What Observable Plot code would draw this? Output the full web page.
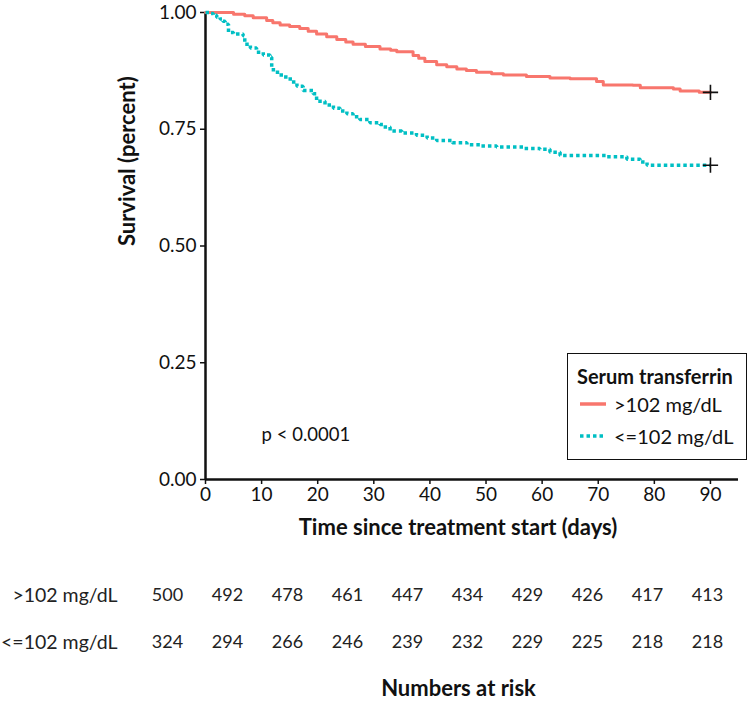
<!DOCTYPE html>
<html>
<head>
<meta charset="utf-8">
<script src="https://cdn.jsdelivr.net/npm/d3@7"></script>
<script src="https://cdn.jsdelivr.net/npm/@observablehq/plot@0.6"></script>
<style>
  body { margin: 0; background: white; font-family: Lato, "Open Sans", sans-serif; }
  #wrap { position: relative; width: 750px; }
  #legend { position: absolute; left: 567px; top: 353px; width: 178px; height: 105px;
    border: 1.6px solid #111; background: white; color: #111; font-family: Lato, sans-serif; }
  #legend .title { position: absolute; left: 9px; top: 10px; font-weight: bold; font-size: 20px; }
  #legend .row { position: absolute; left: 12px; font-size: 20px; display: flex; align-items: center; }
  #legend .row svg { margin-right: 8px; }
</style>
</head>
<body>
<div id="wrap"></div>
<script>
// ---- data ----
const groups = [">102 mg/dL", "<=102 mg/dL"];
const colors = ["#F8766D", "#00BFC4"];

const hiTime = [0, 5, 7, 8.5, 10.9, 12, 13.3, 15, 16.8, 18.3,
  19.8, 21.6, 23.4, 25, 26.3, 28.5, 31.1, 33, 34.1, 37,
  38, 39.1, 41.2, 43, 44.8, 46.5, 48.3, 51, 53.1, 57.2,
  61.4, 65, 69.7, 70.9, 76.2, 77.5, 83.4, 84.6, 88, 90];
const hiSurv = [1.0, 0.996, 0.993, 0.989, 0.983, 0.978, 0.973, 0.970, 0.966, 0.960,
  0.954, 0.948, 0.942, 0.937, 0.932, 0.927, 0.922, 0.919, 0.916, 0.908,
  0.902, 0.895, 0.888, 0.884, 0.879, 0.876, 0.872, 0.869, 0.866, 0.863,
  0.860, 0.858, 0.852, 0.845, 0.844, 0.839, 0.836, 0.832, 0.829, 0.829];

const loTime = [0, 0.7, 1.4, 2, 2.6, 3.1, 3.5, 4.1, 5, 6.7,
  7, 8, 9.1, 10.3, 11.5, 11.8, 12.1, 13.5, 15.1, 16.3,
  17.4, 19.2, 19.8, 21.3, 22.8, 24, 25.2, 26.3, 27.5, 29.3,
  31.1, 31.7, 32.9, 35, 37.6, 39.5, 41.2, 44, 46.6, 49,
  51.9, 56.6, 59.6, 61.4, 63.2, 71.5, 75.1, 77.5, 78.7, 90];
const loSurv = [1.0, 0.998, 0.994, 0.990, 0.986, 0.981, 0.975, 0.957, 0.954, 0.950,
  0.932, 0.924, 0.915, 0.909, 0.904, 0.883, 0.872, 0.862, 0.851, 0.842,
  0.833, 0.826, 0.810, 0.802, 0.795, 0.789, 0.783, 0.777, 0.771, 0.764,
  0.760, 0.755, 0.746, 0.742, 0.737, 0.731, 0.726, 0.721, 0.717, 0.714,
  0.712, 0.709, 0.707, 0.701, 0.694, 0.691, 0.686, 0.680, 0.673, 0.673];

const censorTime = [90, 90];
const censorSurv = [0.829, 0.673];

const xTicks = [0, 10, 20, 30, 40, 50, 60, 70, 80, 90];
const yTicks = [0, 0.25, 0.5, 0.75, 1.0];

const riskTimes = [0, 10, 20, 30, 40, 50, 60, 70, 80, 90];
const riskHi = [500, 492, 478, 461, 447, 434, 429, 426, 417, 413];
const riskLo = [324, 294, 266, 246, 239, 232, 229, 225, 218, 218];

const pText = "p < 0.0001";
const pTime = 10, pSurv = 0.095;
const xTitle = "Time since treatment start (days)";
const yTitle = "Survival (percent)";
const legendTitle = "Serum transferrin";
const riskTitle = "Numbers at risk";

// ---- build tables ----
const hiData = hiTime.map((t, i) => ({time: t, surv: hiSurv[i], group: groups[0]}));
const loData = loTime.map((t, i) => ({time: t, surv: loSurv[i], group: groups[1]}));
const censor = censorTime.map((t, i) => ({time: t, surv: censorSurv[i]}));
const riskData = riskTimes.flatMap((t, i) => [
  {time: t, group: groups[0], n: riskHi[i]},
  {time: t, group: groups[1], n: riskLo[i]}
]);

const font = "Lato, 'Open Sans', sans-serif";

const main = Plot.plot({
  width: 750, height: 545,
  marginLeft: 205, marginRight: 12, marginTop: 12, marginBottom: 66,
  style: {fontFamily: font, fontSize: "19px", color: "#111", background: "white", overflow: "visible"},
  x: {domain: [0, 95]},
  y: {domain: [0, 1]},
  marks: [
    Plot.axisX({ticks: xTicks, tickSize: 5, tickPadding: 3, label: null, fontSize: 19, strokeWidth: 1.5}),
    Plot.axisY({ticks: yTicks, tickSize: 5, tickPadding: 4, label: null, fontSize: 19, tickFormat: d3.format(".2f"), strokeWidth: 1.5}),
    Plot.ruleY([0], {stroke: "#111", strokeWidth: 2.5}),
    Plot.ruleX([0], {stroke: "#111", strokeWidth: 2.5}),
    Plot.line(hiData, {x: "time", y: "surv", curve: "step-after", stroke: colors[0], strokeWidth: 3}),
    Plot.line(loData, {x: "time", y: "surv", curve: "step-after", stroke: colors[1], strokeWidth: 3.5,
      strokeDasharray: "3.5,3", strokeLinecap: "butt", strokeLinejoin: "miter"}),
    Plot.dot(censor, {x: "time", y: "surv", symbol: "plus", stroke: "#111", r: 5, strokeWidth: 1.6}),
    Plot.text([pText], {x: pTime, y: pSurv, text: d => d, textAnchor: "start", fontSize: 18.5, fill: "#111"}),
    Plot.text([xTitle], {frameAnchor: "bottom", lineAnchor: "middle", dy: 48, dx: -14, text: d => d, fontWeight: "bold", fontSize: 22, fill: "#111"}),
    Plot.text([yTitle], {frameAnchor: "left", lineAnchor: "middle", rotate: -90, dx: -78, text: d => d, fontWeight: "bold", fontSize: 22, fill: "#111"})
  ]
});

const risk = Plot.plot({
  width: 750, height: 156,
  marginLeft: 167, marginRight: 43, marginTop: 0, marginBottom: 0,
  style: {fontFamily: font, fontSize: "18px", color: "#222", background: "white", overflow: "visible"},
  x: {type: "point", domain: riskTimes, padding: 0, axis: null},
  y: {type: "point", domain: groups, range: [50, 97], padding: 0},
  marks: [
    Plot.axisY({tickSize: 0, tickPadding: 50, fontSize: 19.5, label: null}),
    Plot.text(riskData, {x: "time", y: "group", text: "n", fontSize: 18, fill: "#222"}),
    Plot.text([riskTitle], {frameAnchor: "bottom", lineAnchor: "middle", dy: -13, dx: 21, text: d => d, fontWeight: "bold", fontSize: 22, fill: "#111"})
  ]
});

const wrap = document.getElementById("wrap");
wrap.appendChild(main);
wrap.appendChild(risk);
main.style.display = "block";
risk.style.display = "block";

// legend
const leg = document.createElement("div");
leg.id = "legend";
const t = document.createElement("div");
t.className = "title";
t.textContent = legendTitle;
leg.appendChild(t);
groups.forEach((g, i) => {
  const row = document.createElement("div");
  row.className = "row";
  row.style.top = (38 + i * 32) + "px";
  const dash = i === 1 ? 'stroke-dasharray="3.5,3"' : "";
  row.innerHTML = `<svg width="26" height="10"><line x1="0" x2="26" y1="5" y2="5" stroke="${colors[i]}" stroke-width="3.5" ${dash}/></svg><span>${g}</span>`;
  leg.appendChild(row);
});
wrap.appendChild(leg);
</script>
</body>
</html>
